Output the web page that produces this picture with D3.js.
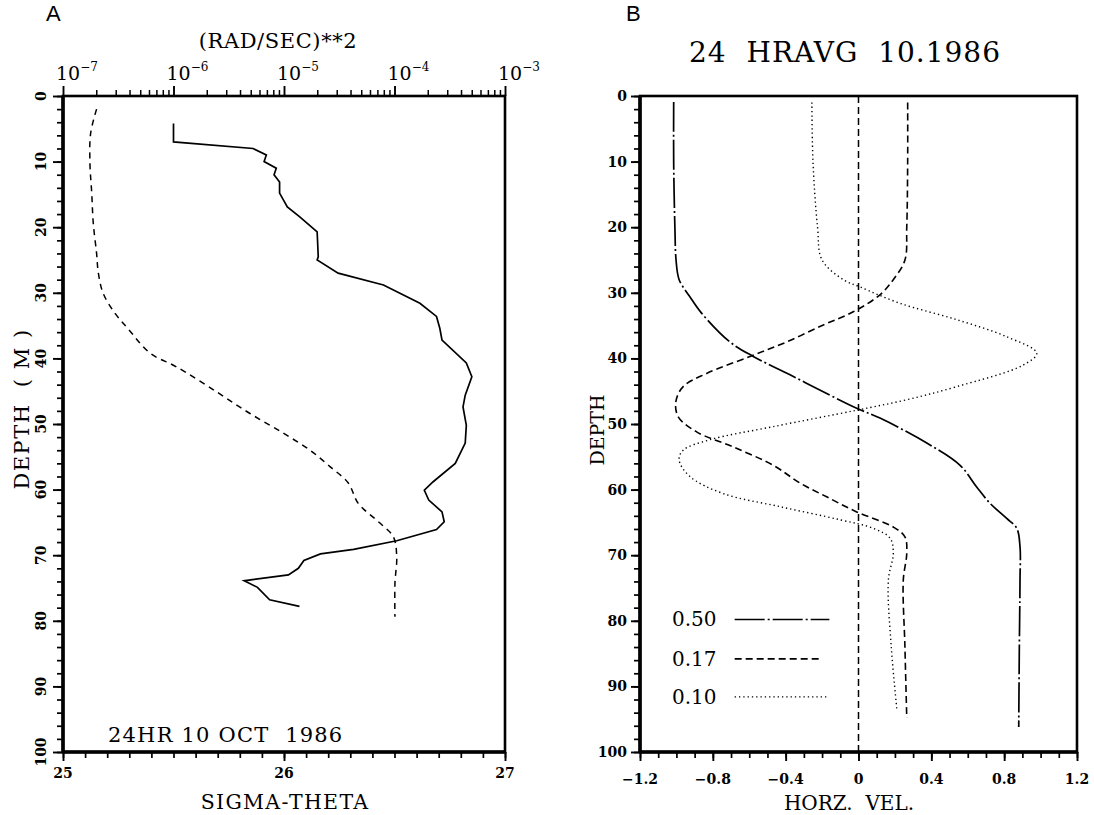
<!DOCTYPE html>
<html><head><meta charset="utf-8">
<script src="https://cdn.jsdelivr.net/npm/d3@7"></script>
<style>
body{margin:0;background:#fff;}
svg{display:block;}
text{fill:#000;}
</style></head>
<body>
<svg id="chart" width="1094" height="815"></svg>
<script>
// ---------- DATA ----------
// Panel A: N^2 (rad/s)^2, log10 values, vs depth (m)  -- solid line, top axis
const n2Depth = [4.2,7.0,8.0,9.0,10.0,11.0,12.0,13.1,14.8,16.9,18.4,20.7,24.5,25.0,27.0,28.8,31.6,33.6,35.4,37.2,40.7,42.8,45.6,47.4,50.2,52.9,56.0,58.8,60.1,61.6,63.4,64.9,66.1,67.8,69.1,69.8,70.8,72.0,73.0,73.9,74.9,76.8,77.8];
const n2Log   = [-6.0,-6.0,-5.28,-5.16,-5.18,-5.07,-5.09,-5.04,-5.04,-4.97,-4.86,-4.70,-4.69,-4.70,-4.51,-4.10,-3.77,-3.62,-3.59,-3.57,-3.35,-3.30,-3.36,-3.38,-3.35,-3.36,-3.45,-3.65,-3.73,-3.69,-3.57,-3.55,-3.62,-3.98,-4.37,-4.67,-4.82,-4.87,-4.96,-5.36,-5.24,-5.13,-4.86];
// Panel A: sigma-theta vs depth -- dashed line, bottom axis
const sigDepth = [2.0,5.7,10.3,14.8,19.4,24.0,27.0,30.1,33.1,35.5,39.2,41.3,45.1,48.4,51.4,54.0,56.5,59.0,62.1,65.1,67.2,70.2,74.3,79.4];
const sigVal   = [25.152,25.125,25.122,25.13,25.137,25.152,25.16,25.182,25.235,25.295,25.394,25.514,25.695,25.846,25.997,26.118,26.208,26.291,26.336,26.434,26.495,26.51,26.502,26.502];
// Panel B: horizontal velocity profiles
const v50Depth = [0.9,10.2,20.4,25.0,28.0,30.6,33.1,37.5,39.7,42.5,45.6,47.6,49.1,52.9,56.3,59.6,62.1,64.4,65.9,68.7,73.8,85.0,96.2];
const v50Val   = [-1.015,-1.015,-1.008,-1.002,-0.985,-0.926,-0.862,-0.706,-0.578,-0.376,-0.157,-0.01,0.118,0.375,0.558,0.649,0.723,0.814,0.869,0.887,0.887,0.883,0.88];
const v17Depth = [1.0,10.0,20.0,25.0,28.0,30.3,32.9,34.9,37.5,39.7,42.3,44.3,46.6,48.9,51.2,53.5,56.3,59.0,61.1,63.4,65.7,67.2,69.7,73.8,84.0,94.8];
const v17Val   = [0.27,0.27,0.265,0.255,0.191,0.118,-0.029,-0.193,-0.395,-0.596,-0.834,-0.963,-1.003,-0.99,-0.889,-0.688,-0.468,-0.321,-0.175,-0.01,0.191,0.255,0.265,0.246,0.255,0.265];
const v10Depth = [1.0,10.0,20.0,25.0,28.0,29.1,31.6,34.1,36.7,39.2,41.0,44.3,46.3,47.9,50.4,52.4,54.0,55.5,58.0,60.6,62.6,64.6,65.9,67.4,69.7,73.8,84.0,93.6];
const v10Val   = [-0.256,-0.25,-0.225,-0.2,-0.083,0.008,0.228,0.54,0.814,0.979,0.906,0.54,0.265,-0.01,-0.468,-0.816,-0.963,-0.985,-0.926,-0.743,-0.431,-0.102,0.081,0.173,0.191,0.164,0.18,0.211];
const legendLabels = ["0.50","0.17","0.10"];
const depthTicks = [0,10,20,30,40,50,60,70,80,90,100];
const sigmaTicks = [25,26,27];
const velTicks = [-1.2,-0.8,-0.4,0,0.4,0.8,1.2];
const n2Ticks = [1e-7,1e-6,1e-5,1e-4,1e-3];

// ---------- SETUP ----------
const svg = d3.select("#chart");
const SERIF = "'DejaVu Serif', serif";
const SANS = "'Liberation Sans', Arial, sans-serif";
const A = {x0:63, x1:505, y0:96, y1:752};
const B = {x0:640, x1:1077, y0:96, y1:752};

const yA = d3.scaleLinear().domain([0,100]).range([A.y0,A.y1]);
const yB = d3.scaleLinear().domain([0,100]).range([B.y0,B.y1]);
const xSig = d3.scaleLinear().domain([25,27]).range([A.x0,A.x1]);
const xN2 = d3.scaleLog().domain([1e-7,1e-3]).range([A.x0,A.x1]);
const xVel = d3.scaleLinear().domain([-1.2,1.2]).range([B.x0,B.x1]);

function styleAxis(g, w){
  g.select(".domain").remove();
  g.selectAll(".tick line").attr("stroke","#000").attr("stroke-width",w||1.6);
}
function minorRange(a,b,s){const r=[];for(let v=a;v<=b+1e-9;v+=s)r.push(+v.toFixed(4));return r;}

// ---------- PANEL A ----------
const gA = svg.append("g");
gA.append("g").attr("transform",`translate(${A.x0},0)`)
  .call(d3.axisLeft(yA).tickValues(minorRange(0,100,2)).tickSize(6).tickFormat(""))
  .call(g=>styleAxis(g,1.7));
gA.append("g").attr("transform",`translate(${A.x0},0)`)
  .call(d3.axisLeft(yA).tickValues(depthTicks).tickSize(10).tickFormat(""))
  .call(g=>styleAxis(g,1.9));
gA.selectAll(".ylabA").data(depthTicks).join("text")
  .attr("transform",d=>`translate(${A.x0-17},${yA(d)}) rotate(-90)`)
  .attr("text-anchor","middle").attr("font-family",SERIF).attr("font-weight","bold")
  .attr("font-size",14).text(d=>d);
gA.append("g").attr("transform",`translate(0,${A.y1})`)
  .call(d3.axisBottom(xSig).tickValues(minorRange(25,27,0.1)).tickSize(6).tickFormat(""))
  .call(g=>styleAxis(g,1.7));
gA.append("g").attr("transform",`translate(0,${A.y1})`)
  .call(d3.axisBottom(xSig).tickValues(sigmaTicks).tickSize(9).tickFormat(""))
  .call(g=>styleAxis(g,1.9));
gA.selectAll(".xlabA").data(sigmaTicks).join("text")
  .attr("x",d=>xSig(d)).attr("y",778).attr("text-anchor","middle")
  .attr("font-family",SERIF).attr("font-weight","bold").attr("font-size",14).text(d=>d);
const n2Minor = [];
for(let e=-7;e<-3;e++) for(let m=2;m<=9;m++) n2Minor.push(m*Math.pow(10,e));
gA.append("g").attr("transform",`translate(0,${A.y0})`)
  .call(d3.axisTop(xN2).tickValues(n2Minor).tickSize(6).tickFormat(""))
  .call(g=>styleAxis(g,1.5));
gA.append("g").attr("transform",`translate(0,${A.y0})`)
  .call(d3.axisTop(xN2).tickValues(n2Ticks).tickSize(10).tickFormat(""))
  .call(g=>styleAxis(g,1.9));
const topLab = gA.selectAll(".toplab").data(n2Ticks).join("text")
  .attr("x",d=>xN2(d)-7).attr("y",80).attr("font-family",SERIF).attr("font-size",19);
topLab.append("tspan").text("10");
topLab.append("tspan").attr("dy",-9).attr("font-size",12).text(d=>"−"+Math.round(-Math.log10(d)));
gA.append("rect").attr("x",A.x0).attr("y",A.y0).attr("width",A.x1-A.x0).attr("height",A.y1-A.y0)
  .attr("fill","none").attr("stroke","#000").attr("stroke-width",2.6);
gA.append("line").attr("x1",A.x0).attr("x2",A.x0).attr("y1",A.y0).attr("y2",A.y1).attr("stroke","#000").attr("stroke-width",3.6);
gA.append("line").attr("x1",A.x0).attr("x2",A.x1).attr("y1",A.y1).attr("y2",A.y1).attr("stroke","#000").attr("stroke-width",3.6);
const n2Line = d3.line().x(d=>xN2(Math.pow(10,d[1]))).y(d=>yA(d[0])).curve(d3.curveLinear);
gA.append("path").attr("d",n2Line(n2Depth.map((d,i)=>[d,n2Log[i]])))
  .attr("fill","none").attr("stroke","#000").attr("stroke-width",1.7);
const sigLine = d3.line().x(d=>xSig(d[1])).y(d=>yA(d[0])).curve(d3.curveCatmullRom.alpha(0.5));
gA.append("path").attr("d",sigLine(sigDepth.map((d,i)=>[d,sigVal[i]])))
  .attr("fill","none").attr("stroke","#000").attr("stroke-width",1.5).attr("stroke-dasharray","6,5");
gA.append("text").attr("x",108).attr("y",742).attr("font-family",SERIF).attr("font-size",21)
  .attr("letter-spacing",1.2).attr("xml:space","preserve").text("24HR 10 OCT  1986");
gA.append("text").attr("x",285).attr("y",809).attr("text-anchor","middle").attr("font-family",SERIF)
  .attr("font-size",20.5).attr("letter-spacing",1.3).text("SIGMA-THETA");
gA.append("text").attr("x",278).attr("y",48).attr("text-anchor","middle").attr("font-family",SERIF)
  .attr("font-size",21).attr("letter-spacing",0.6).text("(RAD/SEC)**2");
gA.append("text").attr("transform","translate(29,409) rotate(-90)").attr("text-anchor","middle")
  .attr("font-family",SERIF).attr("font-size",21).attr("letter-spacing",1.5)
  .attr("xml:space","preserve").text("DEPTH  ( M )");
svg.append("text").attr("x",46).attr("y",21).attr("font-family",SANS)
  .attr("font-size",22).text("A");

// ---------- PANEL B ----------
const gB = svg.append("g");
gB.append("g").attr("transform",`translate(${B.x0},0)`)
  .call(d3.axisLeft(yB).tickValues(minorRange(0,100,2)).tickSize(6).tickFormat(""))
  .call(g=>styleAxis(g,1.7));
gB.append("g").attr("transform",`translate(${B.x0},0)`)
  .call(d3.axisLeft(yB).tickValues(depthTicks).tickSize(9).tickFormat(""))
  .call(g=>styleAxis(g,1.9));
gB.selectAll(".ylabB").data(depthTicks).join("text")
  .attr("x",B.x0-13).attr("y",d=>yB(d)+5).attr("text-anchor","end")
  .attr("font-family",SERIF).attr("font-weight","bold").attr("font-size",14).text(d=>d);
gB.append("g").attr("transform",`translate(0,${B.y1})`)
  .call(d3.axisBottom(xVel).tickValues(minorRange(-1.2,1.2,0.1)).tickSize(6).tickFormat(""))
  .call(g=>styleAxis(g,1.7));
gB.append("g").attr("transform",`translate(0,${B.y1})`)
  .call(d3.axisBottom(xVel).tickValues(velTicks).tickSize(9).tickFormat(""))
  .call(g=>styleAxis(g,1.9));
gB.selectAll(".xlabB").data(velTicks).join("text")
  .attr("x",d=>xVel(d)).attr("y",784).attr("text-anchor","middle")
  .attr("font-family",SERIF).attr("font-weight","bold").attr("font-size",14)
  .text(d=>d===0?"0":(d<0?"−":"")+Math.abs(d).toFixed(1));
gB.append("rect").attr("x",B.x0).attr("y",B.y0).attr("width",B.x1-B.x0).attr("height",B.y1-B.y0)
  .attr("fill","none").attr("stroke","#000").attr("stroke-width",2.6);
gB.append("line").attr("x1",B.x0).attr("x2",B.x0).attr("y1",B.y0).attr("y2",B.y1).attr("stroke","#000").attr("stroke-width",3.6);
gB.append("line").attr("x1",B.x0).attr("x2",B.x1).attr("y1",B.y1).attr("y2",B.y1).attr("stroke","#000").attr("stroke-width",3.6);
gB.append("line").attr("x1",xVel(0)).attr("x2",xVel(0)).attr("y1",yB(0)).attr("y2",yB(100))
  .attr("stroke","#000").attr("stroke-width",1.5).attr("stroke-dasharray","7,4");
const velLine = d3.line().x(d=>xVel(d[1])).y(d=>yB(d[0])).curve(d3.curveCatmullRom.alpha(0.5));
const dashes = ["30,3,2,3","7,4","1.3,3"];
const widths = [1.7,1.6,1.4];
[[v50Depth,v50Val],[v17Depth,v17Val],[v10Depth,v10Val]].forEach((s,k)=>{
  gB.append("path").attr("d",velLine(s[0].map((d,i)=>[d,s[1][i]])))
    .attr("fill","none").attr("stroke","#000").attr("stroke-width",widths[k]).attr("stroke-dasharray",dashes[k]);
});
const legY = [79.8,85.8,91.6];
const legX2 = [-0.16,-0.2,-0.17];
legendLabels.forEach((l,k)=>{
  gB.append("text").attr("x",672).attr("y",yB(legY[k])+7).attr("font-family",SERIF).attr("font-size",20).text(l);
  gB.append("line").attr("x1",xVel(-0.68)).attr("x2",xVel(legX2[k])).attr("y1",yB(legY[k])).attr("y2",yB(legY[k]))
    .attr("stroke","#000").attr("stroke-width",widths[k]).attr("stroke-dasharray",dashes[k]);
});
gB.append("text").attr("x",845).attr("y",62).attr("text-anchor","middle").attr("font-family",SERIF)
  .attr("font-size",28).attr("letter-spacing",1).attr("xml:space","preserve").text("24  HRAVG  10.1986");
gB.append("text").attr("x",849).attr("y",810).attr("text-anchor","middle").attr("font-family",SERIF)
  .attr("font-size",20).attr("xml:space","preserve").text("HORZ.  VEL.");
gB.append("text").attr("transform","translate(604,430) rotate(-90)").attr("text-anchor","middle")
  .attr("font-family",SERIF).attr("font-size",19).text("DEPTH");
svg.append("text").attr("x",626).attr("y",21).attr("font-family",SANS)
  .attr("font-size",22).text("B");
</script>
</body></html>
